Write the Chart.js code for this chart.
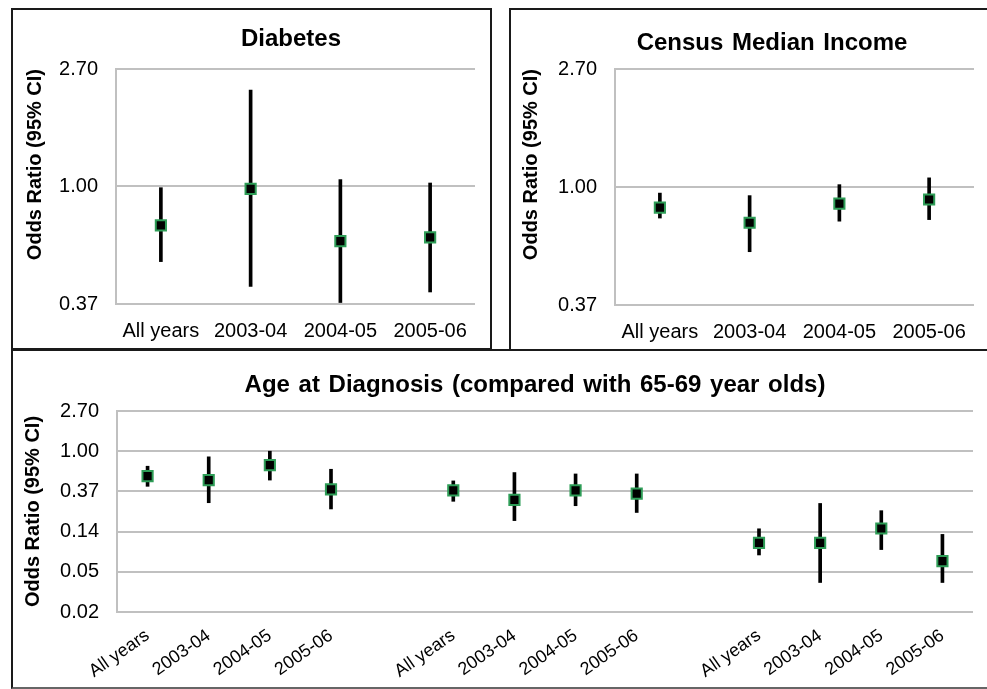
<!DOCTYPE html>
<html><head><meta charset="utf-8">
<script src="https://cdn.jsdelivr.net/npm/chart.js@4.4.1/dist/chart.umd.min.js"></script>
<style>
html,body{margin:0;padding:0;background:#fff;width:987px;height:689px;overflow:hidden;position:relative}
.box{position:absolute;box-sizing:border-box;border:2px solid #1a1a1a}
canvas{position:absolute}
</style></head><body>
<div class="box" style="left:11px;top:8px;width:481px;height:342px"></div>
<div class="box" style="left:509px;top:8px;width:500px;height:343px"></div>
<div class="box" style="left:11px;top:349px;width:1000px;height:340px;border-bottom-color:#666"></div>
<canvas id="c1" width="476" height="338" style="left:13px;top:10px"></canvas>
<canvas id="c2" width="476" height="338" style="left:511px;top:10px"></canvas>
<canvas id="c3" width="974" height="335" style="left:13px;top:352px"></canvas>
<script>
// ---- data ----
const yearLabels = ['All years', '2003-04', '2004-05', '2005-06'];

const diabetesOR   = [0.72, 0.98, 0.63, 0.65];
const diabetesLow  = [0.53, 0.43, 0.375, 0.41];
const diabetesHigh = [0.99, 2.26, 1.06, 1.03];

const incomeOR   = [0.84, 0.74, 0.87, 0.90];
const incomeLow  = [0.77, 0.58, 0.75, 0.76];
const incomeHigh = [0.95, 0.93, 1.02, 1.08];

const ageLabels = ['All years', '2003-04', '2004-05', '2005-06', '',
                   'All years', '2003-04', '2004-05', '2005-06', '',
                   'All years', '2003-04', '2004-05', '2005-06'];
const ageOR   = [0.54, 0.49, 0.71, 0.39, null, 0.38, 0.30, 0.38, 0.35, null, 0.104, 0.104, 0.148, 0.066];
const ageLow  = [0.42, 0.28, 0.49, 0.24, null, 0.29, 0.18, 0.26, 0.22, null, 0.077, 0.039, 0.088, 0.039];
const ageHigh = [0.69, 0.87, 1.00, 0.64, null, 0.48, 0.59, 0.57, 0.57, null, 0.147, 0.275, 0.23, 0.128];

const topTickValues = [0.37037, 1, 2.7];
const topTickLabels = ['0.37', '1.00', '2.70'];
const ageTickValues = [0.018817, 0.050805, 0.137174, 0.37037, 1, 2.7];
const ageTickLabels = ['0.02', '0.05', '0.14', '0.37', '1.00', '2.70'];

const axisTitle = 'Odds Ratio (95% CI)';
const titles = ['Diabetes', 'Census Median Income', 'Age at Diagnosis (compared with 65-69 year olds)'];

// ---- rendering ----
Chart.defaults.font.family = '"Liberation Sans", Arial, sans-serif';
Chart.defaults.color = '#000';

const panelTitle = {
  id: 'panelTitle',
  afterDraw(chart, args, o) {
    const ctx = chart.ctx;
    ctx.save();
    ctx.font = 'bold ' + o.size + 'px "Liberation Sans", Arial, sans-serif';
    if ('wordSpacing' in ctx) ctx.wordSpacing = '2px';
    ctx.fillStyle = '#000';
    ctx.textAlign = 'center';
    ctx.textBaseline = 'alphabetic';
    ctx.fillText(o.text, o.x, o.y);
    ctx.restore();
  }
};

function makeChart(id, p) {
  new Chart(document.getElementById(id), {
    type: 'bar',
    data: {
      labels: p.labels,
      datasets: [
        {
          type: 'line', data: p.or, showLine: false, order: 0,
          pointStyle: 'rect', pointRadius: 7.2,
          pointBackgroundColor: '#000', pointBorderColor: '#2e9d57', pointBorderWidth: 2
        },
        {
          type: 'bar', order: 1,
          data: p.low.map((l, i) => l == null ? null : [l, p.high[i]]),
          backgroundColor: '#000', barThickness: 3
        }
      ]
    },
    options: {
      responsive: false, animation: false,
      layout: { padding: { top: p.padTop, right: p.padRight, left: 0, bottom: 0 } },
      plugins: {
        legend: { display: false }, tooltip: { enabled: false },
        panelTitle: { text: p.title, x: p.titleX, y: p.titleY, size: 24 }
      },
      scales: {
        x: {
          grid: { display: false }, border: { display: false },
          ticks: { color: '#000', font: { size: p.xFont }, padding: p.xPad,
                   minRotation: p.rot, maxRotation: p.rot, autoSkip: false },
          afterFit(s) { s.height = p.xHeight; }
        },
        y: {
          type: 'logarithmic',
          min: p.tickValues[0], max: p.tickValues[p.tickValues.length - 1],
          afterBuildTicks(s) { s.ticks = p.tickValues.map(v => ({ value: v })); },
          ticks: { callback: (v, i) => p.tickLabels[i], padding: 18, color: '#000', font: { size: 20 } },
          grid: { color: '#c0c0c0', lineWidth: 2, drawTicks: false },
          border: { display: true, color: '#c0c0c0', width: 2 },
          title: { display: true, text: axisTitle, color: '#000', align: p.axisAlign,
                   font: { size: 20, weight: 'bold' }, padding: { top: p.axisPad, bottom: 0 } },
          afterFit(s) { s.width = p.yWidth; }
        }
      }
    },
    plugins: [panelTitle]
  });
}

makeChart('c1', {
  labels: yearLabels, or: diabetesOR, low: diabetesLow, high: diabetesHigh,
  tickValues: topTickValues, tickLabels: topTickLabels,
  padTop: 59, padRight: 14, xHeight: 44, yWidth: 103, xFont: 20, xPad: 7, rot: 0,
  axisPad: 10, axisAlign: 'end', title: titles[0], titleX: 278, titleY: 36
});
makeChart('c2', {
  labels: yearLabels, or: incomeOR, low: incomeLow, high: incomeHigh,
  tickValues: topTickValues, tickLabels: topTickLabels,
  padTop: 59, padRight: 13, xHeight: 43, yWidth: 104, xFont: 20, xPad: 7, rot: 0,
  axisPad: 8, axisAlign: 'end', title: titles[1], titleX: 261, titleY: 40
});
makeChart('c3', {
  labels: ageLabels, or: ageOR, low: ageLow, high: ageHigh,
  tickValues: ageTickValues, tickLabels: ageTickLabels,
  padTop: 59, padRight: 14, xHeight: 75, yWidth: 104, xFont: 18, xPad: 5, rot: 35,
  axisPad: 8, axisAlign: 'center', title: titles[2], titleX: 522, titleY: 40
});
</script>
</body></html>
